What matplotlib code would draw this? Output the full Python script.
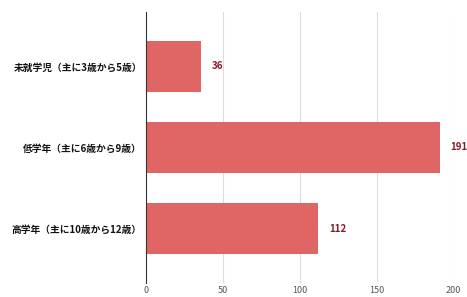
import matplotlib.pyplot as plt

plt.rcParams['font.family'] = ['Noto Sans CJK JP', 'DejaVu Sans']

categories = ['未就学児（主に3歳から5歳）', '低学年（主に6歳から9歳）', '高学年（主に10歳から12歳）']
values = [36, 191, 112]
xticks = [0, 50, 100, 150, 200]

fig = plt.figure(figsize=(4.67, 2.97), dpi=100)
ax = fig.add_axes([0.3126, 0.047, 0.659, 0.913])

pos = list(range(len(categories)))
ax.barh(pos, values, height=0.63, color='#e06666', zorder=2)

for p, v in zip(pos, values):
    ax.text(v + 7, p, str(v), va='center', ha='left', fontsize=7,
            fontweight='bold', color='#8b1a2b', clip_on=False)

ax.set_xlim(0, 200)
ax.set_ylim(2.67, -0.67)
ax.set_xticks(xticks)
ax.set_xticklabels([str(t) for t in xticks], fontsize=6.5, color='#555555')
ax.set_yticks(pos)
ax.set_yticklabels(categories, fontsize=7, fontweight='bold', color='#111111')
ax.tick_params(axis='y', length=0, pad=3)
ax.tick_params(axis='x', length=0, pad=2)
ax.grid(axis='x', color='#dddddd', linewidth=0.8, zorder=0)
for s in ['top', 'right', 'bottom']:
    ax.spines[s].set_visible(False)
ax.spines['left'].set_color('#333333')
ax.spines['left'].set_linewidth(0.8)
ax.spines['left'].set_zorder(3)

fig.savefig('out.png', dpi=100)
